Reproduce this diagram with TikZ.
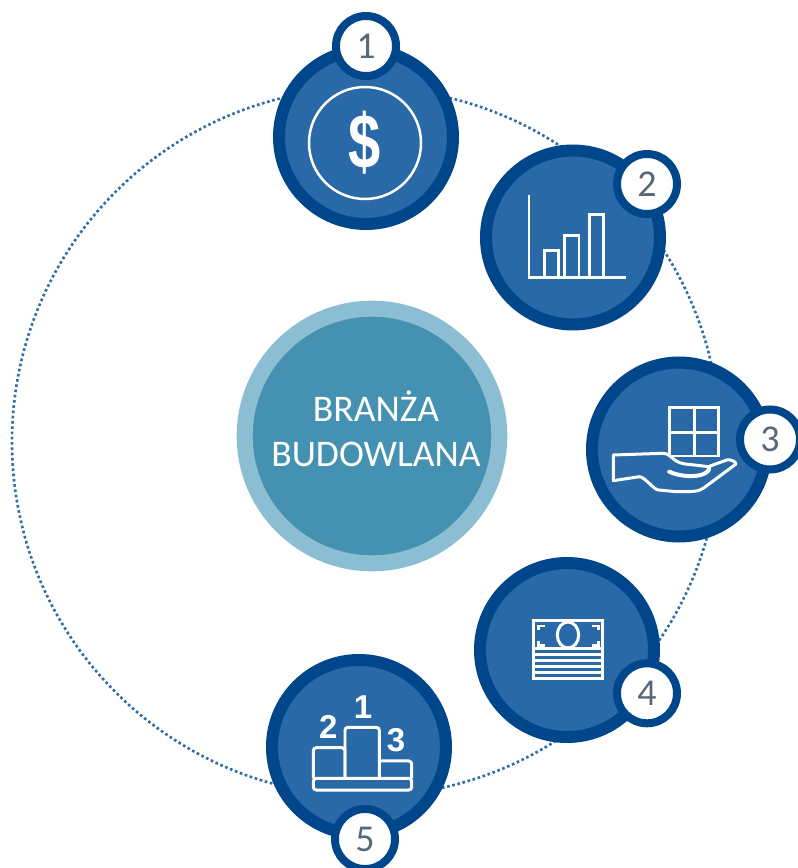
\documentclass[tikz,border=0pt]{standalone}
\usepackage{fontspec}
\setmainfont{Carlito}
\newfontfamily\podiumfont{Liberation Sans}
\definecolor{ringblue}{HTML}{00468B}
\definecolor{discblue}{HTML}{2A69A7}
\definecolor{orbitblue}{HTML}{2F6EA9}
\definecolor{hubring}{HTML}{8BBDD3}
\definecolor{hubfill}{HTML}{4491B1}
\definecolor{digitgray}{HTML}{566978}
\tikzset{
  orbit/.style={circle, draw=orbitblue, line width=.75pt, dash pattern=on .75pt off .75pt, minimum size=7.08cm, inner sep=0pt},
  hub/.style={circle, draw=hubring, fill=hubfill, line width=.16cm, minimum size=2.546cm, inner sep=0pt},
  hubtext/.style={text=white, align=center, inner sep=0pt, font=\fontsize{10.7}{12.8}\selectfont},
  disc/.style={circle, draw=ringblue, fill=discblue, line width=.12cm, minimum size=1.74cm, inner sep=0pt},
  badge/.style={circle, draw=ringblue, fill=white, line width=.08cm, minimum size=.6cm, inner sep=0pt, text=digitgray, font=\fontsize{10.8}{12}\selectfont},
  icon/.style={draw=white, line width=.03cm},
  podnum/.style={text=white, inner sep=0pt, font=\fontsize{9.4}{10}\podiumfont\bfseries}
}
\begin{document}
\begin{tikzpicture}
  \useasboundingbox (0,0) rectangle (7.98,8.68);
  \node[orbit] at (3.66,4.26) (n0) {};
  \node[hub] at (3.72,4.32) (hub) {};
  \node[hubtext] at (3.76,4.39) (title) {BRANŻA\\BUDOWLANA};

  \node[disc] at (3.66,7.31) (c1) {};
  \node[disc] at (5.73,6.305) (c2) {};
  \node[disc] at (6.79,4.185) (c3) {};
  \node[disc] at (5.67,2.18) (c4) {};
  \node[disc] at (3.59,1.21) (c5) {};

  \node[badge] at (3.66,8.22) (b1) {1};
  \node[badge] at (6.47,6.84) (b2) {2};
  \node[badge] at (7.70,4.285) (b3) {3};
  \node[badge] at (6.47,1.747) (b4) {4};
  \node[badge] at (3.65,0.29) (b5) {5};

  % dollar
  \node[circle, icon, line width=.025cm, minimum size=1.12cm, inner sep=0pt] at (3.65,7.25) (coin) {};
  \node[text=white, inner sep=0pt, xscale=.75, transform shape, font=\fontsize{22}{22}\podiumfont\bfseries] at (coin) (sign) {\$};

  % chart
  \draw [icon] (5.29,6.73) -- (5.29,5.90) -- (6.26,5.90);
  \draw [icon] (5.44,5.90) rectangle (5.583,6.173);
  \draw [icon] (5.647,5.90) rectangle (5.79,6.325);
  \draw [icon] (5.89,5.90) rectangle (6.033,6.533);

  % window on a hand
  \draw [icon] (6.693,4.12) rectangle (7.183,4.607);
  \draw [icon] (6.943,4.12) -- (6.943,4.607);
  \draw [icon] (6.693,4.353) -- (7.183,4.353);
  \draw [icon, fill=discblue, line join=round] (6.133,4.13) -- (6.633,4.147)
    .. controls (6.72,4.14) and (6.72,4.06) .. (6.85,4.04)
    .. controls (6.95,4.03) and (7.03,4.02) .. (7.083,4.013)
    -- (7.267,4.08) .. controls (7.31,4.09) and (7.36,4.06) .. (7.36,4.04)
    -- (7.033,3.797) .. controls (6.98,3.76) and (6.9,3.763) .. (6.767,3.763)
    -- (6.583,3.78) .. controls (6.53,3.79) and (6.45,3.91) .. (6.393,3.913)
    -- (6.133,3.873) -- cycle;
  \draw [icon, line width=.04cm, line cap=round] (6.693,3.963)
    .. controls (6.85,3.89) and (7.1,3.91) .. (7.093,4.007);

  % banknotes
  \draw [icon] (5.333,1.893) rectangle (6.027,2.47);
  \draw [icon] (5.333,2.197) -- (6.027,2.197);
  \foreach \y in {2.133,2.073,2.013,1.953}
    \draw [icon] (5.333,\y) -- (6.027,\y);
  \draw [icon] (5.68,2.33) ellipse (.107 and .13);
  \draw [icon] (5.383,2.38) -- (5.383,2.42) -- (5.45,2.42);
  \draw [icon] (5.383,2.273) -- (5.383,2.23) -- (5.45,2.23);
  \draw [icon] (5.917,2.42) -- (5.983,2.42) -- (5.983,2.38);
  \draw [icon] (5.917,2.23) -- (5.983,2.23) -- (5.983,2.273);

  % podium
  \draw [icon, rounded corners=.03cm] (3.133,.78) rectangle (4.117,.897);
  \draw [icon, rounded corners=.03cm] (3.133,.897) -- (3.133,1.203) -- (3.45,1.203) -- (3.45,.897);
  \draw [icon, rounded corners=.03cm] (3.45,.897) -- (3.45,1.407) -- (3.793,1.407) -- (3.793,.897);
  \draw [icon, rounded corners=.03cm] (3.793,1.07) -- (4.117,1.07) -- (4.117,.897);
  \node[podnum] at (3.283,1.413) (p2) {2};
  \node[podnum] at (3.63,1.613) (p1) {1};
  \node[podnum] at (3.96,1.28) (p3) {3};
\end{tikzpicture}
\end{document}
